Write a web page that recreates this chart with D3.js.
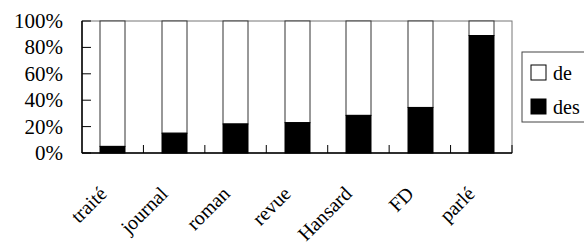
<!DOCTYPE html>
<html>
<head>
<meta charset="utf-8">
<script src="https://cdn.jsdelivr.net/npm/d3@7"></script>
</head>
<body style="margin:0">
<script>
// categories and shares (%) of "des"; "de" fills the rest
const categories = ["traité", "journal", "roman", "revue", "Hansard", "FD", "parlé"];
const desValues = [5, 15, 22, 23, 28.5, 34.5, 89];
const yTicks = [0, 20, 40, 60, 80, 100];
const legendLabels = ["de", "des"];

const x0 = 82, x1 = 512, y0 = 21, y1 = 153;
const font = "Liberation Serif";

const svg = d3.select("body").append("svg").attr("width", 584).attr("height", 248);

const x = d3.scaleBand().domain(categories).range([x0, x1]).paddingInner(0.6).paddingOuter(0.3);
const slot = d3.scaleBand().domain(categories).range([x0, x1]);
const y = d3.scaleLinear().domain([0, 100]).range([y1, y0]);

// frame
svg.append("rect")
  .attr("x", x0).attr("y", y0)
  .attr("width", x1 - x0).attr("height", y1 - y0)
  .attr("fill", "none").attr("stroke", "#777");

// white part (de)
svg.selectAll("rect.de").data(categories).enter().append("rect")
  .attr("class", "de")
  .attr("x", (d) => Math.round(x(d)))
  .attr("y", y(100))
  .attr("width", Math.round(x.bandwidth()))
  .attr("height", (d, i) => y(desValues[i]) - y(100))
  .attr("fill", "#fff").attr("stroke", "#333");

// black part (des)
svg.selectAll("rect.des").data(categories).enter().append("rect")
  .attr("class", "des")
  .attr("x", (d) => Math.round(x(d)))
  .attr("y", (d, i) => y(desValues[i]))
  .attr("width", Math.round(x.bandwidth()))
  .attr("height", (d, i) => y1 - y(desValues[i]))
  .attr("fill", "#000").attr("stroke", "#000");

// left axis line and inward ticks
svg.append("line").attr("x1", x0).attr("x2", x0).attr("y1", y0).attr("y2", y1)
  .attr("stroke", "#000").attr("stroke-width", 1.5);
svg.selectAll("line.yt").data(yTicks).enter().append("line")
  .attr("class", "yt")
  .attr("x1", x0).attr("x2", x0 + 9)
  .attr("y1", (d) => y(d)).attr("y2", (d) => y(d))
  .attr("stroke", "#000");
svg.selectAll("text.yl").data(yTicks).enter().append("text")
  .attr("class", "yl")
  .attr("x", x0 - 19)
  .attr("y", (d) => Math.round(y(d)) + 7)
  .attr("text-anchor", "end")
  .attr("font-family", font)
  .attr("font-size", 21)
  .attr("fill", "#000")
  .text((d) => d + "%");

// bottom axis and upward ticks between categories
svg.append("line").attr("x1", x0).attr("x2", x1).attr("y1", y1).attr("y2", y1)
  .attr("stroke", "#000").attr("stroke-width", 1.5);
const bounds = categories.slice(1).map((d) => slot(d)).concat([x1]);
svg.selectAll("line.xt").data(bounds).enter().append("line")
  .attr("class", "xt")
  .attr("x1", (d) => d).attr("x2", (d) => d)
  .attr("y1", y1).attr("y2", y1 - 8)
  .attr("stroke", "#000");

// rotated category labels
svg.selectAll("text.xl").data(categories).enter().append("text")
  .attr("class", "xl")
  .attr("transform", (d) => "translate(" + Math.round(x(d) + x.bandwidth() / 2 - 5) + "," + (y1 + 42) + ") rotate(-45)")
  .attr("text-anchor", "end")
  .attr("font-family", font)
  .attr("font-size", 20)
  .attr("fill", "#000")
  .text((d) => d);

// legend
svg.append("rect")
  .attr("x", 522).attr("y", 52).attr("width", 80).attr("height", 70)
  .attr("fill", "#fff").attr("stroke", "#444");
svg.selectAll("rect.lk").data(legendLabels).enter().append("rect")
  .attr("class", "lk")
  .attr("x", 531).attr("y", (d, i) => 65 + i * 34)
  .attr("width", 15).attr("height", 15)
  .attr("fill", (d, i) => (i === 0 ? "#fff" : "#000"))
  .attr("stroke", "#000");
svg.selectAll("text.lt").data(legendLabels).enter().append("text")
  .attr("class", "lt")
  .attr("x", 553).attr("y", (d, i) => 80 + i * 34)
  .attr("font-family", font)
  .attr("font-size", 20)
  .attr("fill", "#000")
  .text((d) => d);
</script>
</body>
</html>
